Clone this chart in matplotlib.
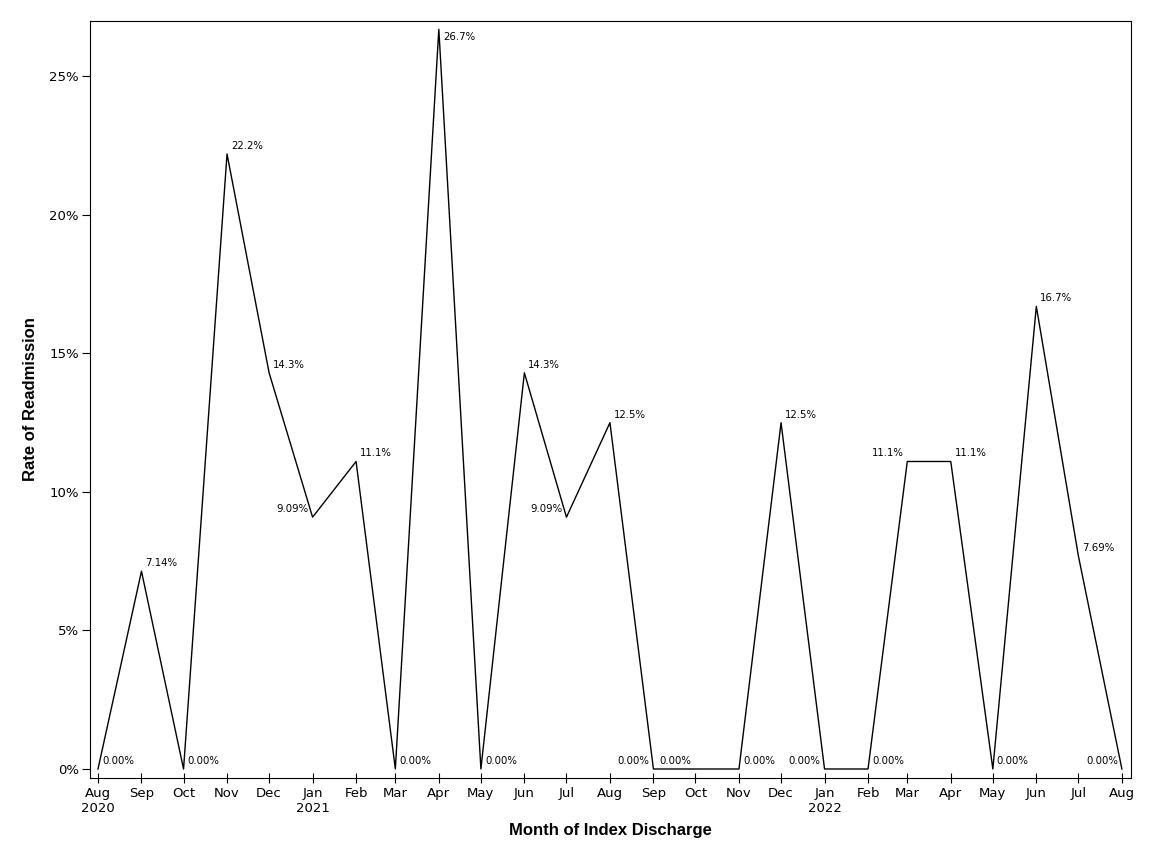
import matplotlib.pyplot as plt
import matplotlib.dates as mdates
import matplotlib.ticker as mticker
import datetime as dt

# dados (primeiro dia de cada mes)
months = [dt.date(2020, 8, 1)]
while months[-1] < dt.date(2022, 8, 1):
    d = months[-1]
    months.append(dt.date(d.year + (d.month // 12), d.month % 12 + 1, 1))

rates = [0.00, 7.14, 0.00, 22.2, 14.3, 9.09, 11.1, 0.00, 26.7, 0.00, 14.3, 9.09, 12.5,
         0.00, 0.00, 0.00, 12.5, 0.00, 0.00, 11.1, 11.1, 0.00, 16.7, 7.69, 0.00]
labels = ["0.00%", "7.14%", "0.00%", "22.2%", "14.3%", "9.09%", "11.1%", "0.00%", "26.7%",
          "0.00%", "14.3%", "9.09%", "12.5%", "0.00%", "0.00%", "0.00%", "12.5%", "0.00%",
          "0.00%", "11.1%", "11.1%", "0.00%", "16.7%", "7.69%", "0.00%"]
side = ["R", "R", "R", "R", "R", "L", "R", "R", "R", "R", "R", "L", "R",
        "L", "L", "R", "R", "L", "R", "L", "R", "R", "R", "R", "L"]

fig = plt.figure(figsize=(11.52, 8.64), dpi=100)
ax = fig.add_axes([90 / 1152, 86 / 864, 1041 / 1152, 757 / 864])

ax.plot(months, rates, color="black", linewidth=1)

for m, r, lab, s in zip(months, rates, labels, side):
    dy = 8
    if r > 26:
        dy = -8
    if s == "R":
        ax.annotate(lab, (m, r), xytext=(4, dy), textcoords="offset pixels",
                    ha="left", va="center", fontsize=7.3, family="DejaVu Sans")
    else:
        ax.annotate(lab, (m, r), xytext=(-4, dy), textcoords="offset pixels",
                    ha="right", va="center", fontsize=7.3, family="DejaVu Sans")

ax.set_xlim(mdates.date2num(dt.date(2020, 8, 1)) - 5.7, mdates.date2num(dt.date(2022, 8, 1)) + 6.5)
ax.set_ylim(-0.325, 27.0)

ax.set_xticks(months)
tick_labels = []
for i, m in enumerate(months):
    t = m.strftime("%b")
    if i == 0 or m.month == 1:
        t += "\n" + str(m.year)
    tick_labels.append(t)
ax.set_xticklabels(tick_labels)
ax.yaxis.set_major_locator(mticker.MultipleLocator(5))
ax.yaxis.set_major_formatter(mticker.FuncFormatter(lambda v, p: f"{v:.0f}%"))

ax.tick_params(axis="x", direction="inout", length=7, labelsize=9.5, pad=3)
ax.tick_params(axis="y", direction="out", length=6, labelsize=9.5, pad=2)
for lab in ax.get_xticklabels() + ax.get_yticklabels():
    lab.set_family("DejaVu Sans")

ax.set_xlabel("Month of Index Discharge", fontsize=12, fontweight="bold",
              family="Liberation Sans", labelpad=6)
ax.set_ylabel("Rate of Readmission", fontsize=12, fontweight="bold",
              family="Liberation Sans", labelpad=8)

plt.savefig("out.png", dpi=100)
